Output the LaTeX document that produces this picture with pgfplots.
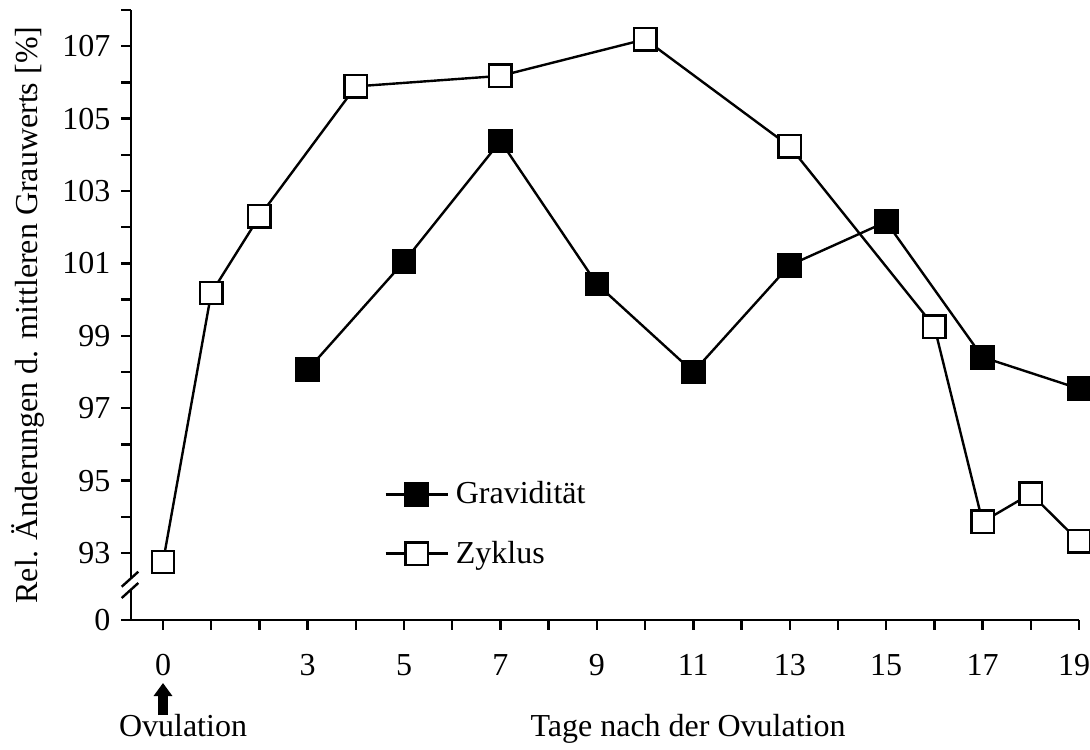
\documentclass[border=0pt]{standalone}
\usepackage{fontspec}
\setmainfont{Liberation Serif}
\usepackage{pgfplots}
\pgfplotsset{compat=1.18}
\usetikzlibrary{arrows.meta}

\begin{document}
\begin{tikzpicture}
\begin{axis}[
  at={(0,0)}, anchor=south west,
  scale only axis, width=474pt, height=305pt,
  xmin=-0.664, xmax=19, ymin=91.15, ymax=108,
  clip=false,
  axis lines=left,
  axis line style={line width=1.4pt, -},
  font=\fontsize{16pt}{19pt}\selectfont,
  /pgf/number format/assume math mode=true,
  tick align=outside,
  major tick length=4.8pt,
  tick style={line width=1.2pt, black},
  xtick={0,1,2,3,4,5,6,7,8,9,10,11,12,13,14,15,16,17,18,19},
  xticklabels={0,,,3,,5,,7,,9,,11,,13,,15,,17,,19\kern5pt},
  ytick={91.15,93,94,95,96,97,98,99,100,101,102,103,104,105,106,107,108},
  yticklabels={0,93,,95,,97,,99,,101,,103,,105,,107,},
  xticklabel style={anchor=base, yshift=-23pt},
  yticklabel style={anchor=east, xshift=-2pt},
  ylabel={Rel. Änderungen d. mittleren Grauwerts [\%]},
  ylabel style={at={(axis description cs:-0.1087,0.5)}, anchor=center},
  xlabel={Tage nach der Ovulation},
  xlabel style={at={(axis description cs:0.5876,-0.1902)}, anchor=base},
  legend style={at={(axis description cs:0.2669,0.1574)}, anchor=west,
    draw=none, fill=none, inner sep=0pt, row sep=13pt, column sep=1.5pt,
    nodes={inner sep=2pt}},
  legend cell align=left,
  legend image code/.code={\draw[mark repeat=2, mark phase=2] plot coordinates {(0pt,0pt) (15.5pt,0pt) (31pt,0pt)};},
]
\addplot[black, line width=1.2pt, mark=square*, mark size=5.6pt,
  mark options={solid, fill=black}]
  coordinates {(3,98.06)(5,101.05)(7,104.38)(9,100.43)(11,98.0)(13,100.95)(15,102.15)(17,98.41)(19,97.54)};
\addlegendentry{Gravidität}
\addplot[black, line width=1.2pt, mark=square*, mark size=5.6pt,
  mark options={solid, fill=white}]
  coordinates {(0,92.75)(1,100.18)(2,102.3)(4,105.89)(7,106.18)(10,107.19)(13,104.23)(16,99.25)(17,93.86)(18,94.64)(19,93.32)};
\addlegendentry{Zyklus}
\end{axis}
% axis break
\fill[white] (-4.65pt,11pt) -- (3.65pt,18.5pt) -- (3.65pt,24.15pt) -- (-4.65pt,16.65pt) -- cycle;
\draw[line width=1.2pt] (-4.65pt,16.65pt) -- (3.65pt,24.15pt);
\draw[line width=1.2pt] (-4.65pt,11pt) -- (3.65pt,18.5pt);
% ovulation arrow and label
\draw[line width=5pt, -{Triangle[width=9pt,length=6.5pt]}] (16pt,-47.5pt) -- (16pt,-31.5pt);
\node[anchor=base, font=\fontsize{16pt}{19pt}\selectfont] at (26pt,-58pt) {Ovulation};
\pgfresetboundingbox
\path (-65.5pt,-64.5pt) rectangle (479.5pt,310pt);
\end{tikzpicture}
\end{document}
